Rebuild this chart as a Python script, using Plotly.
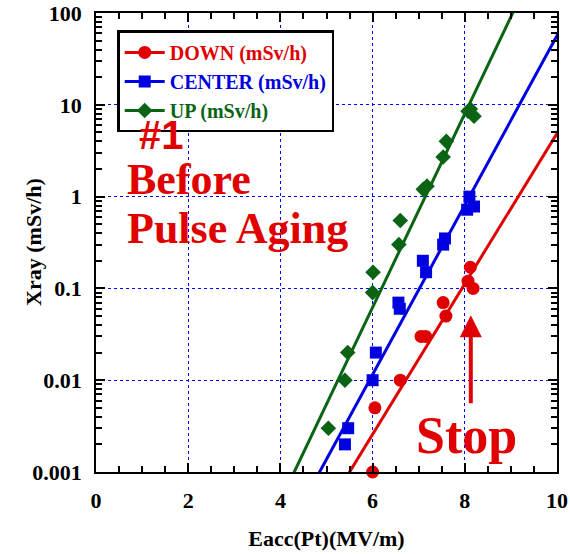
import numpy as np
import plotly.graph_objects as go

# Measured X-ray dose rate vs accelerating field (cavity #1, before pulse aging)
down_e = [6.0, 6.05, 6.6, 7.05, 7.15, 7.53, 7.59, 8.07, 8.12, 8.18]
down_v = [0.001, 0.005, 0.01, 0.03, 0.03, 0.07, 0.05, 0.12, 0.17, 0.1]

center_e = [5.4, 5.47, 6.0, 6.07, 6.56, 6.59, 7.09, 7.16, 7.53, 7.57, 8.05, 8.1, 8.2]
center_v = [0.002, 0.003, 0.01, 0.02, 0.07, 0.06, 0.2, 0.15, 0.3, 0.35, 0.72, 1.0, 0.78]

up_e = [5.04, 5.4, 5.46, 6.0, 6.01, 6.57, 6.6, 7.1, 7.18, 7.53, 7.6, 8.07, 8.12, 8.2]
up_v = [0.003, 0.01, 0.02, 0.09, 0.15, 0.3, 0.55, 1.2, 1.3, 2.7, 4.0, 8.5, 9.0, 7.5]

# Exponential fits: log10(Xray) = slope * (Eacc - e0) - 3
down_fit = dict(e0=5.50, slope=0.820)
center_fit = dict(e0=4.85, slope=0.923)
up_fit = dict(e0=4.30, slope=1.055)

x_ticks = [0, 2, 4, 6, 8, 10]
y_ticks = [0.001, 0.01, 0.1, 1, 10, 100]

# "Stop" marker arrow: field where the run was stopped, from tail to head dose rate
stop_e = 8.13
stop_tail_v = 0.0054
stop_head_v = 0.051

RED = "#e00000"
BLUE = "#0000e0"
GREEN = "#0a6414"
SERIF = "Liberation Serif, Times New Roman, serif"

series = [
    ("DOWN (mSv/h)", down_e, down_v, down_fit, RED, "circle", 13),
    ("CENTER (mSv/h)", center_e, center_v, center_fit, BLUE, "square", 12),
    ("UP (mSv/h)", up_e, up_v, up_fit, GREEN, "diamond", 12),
]

fig = go.Figure()
for name, ex, vy, fit, color, sym, size in series:
    ef = np.linspace(fit["e0"] - 0.2, 10.2, 60)
    vf = 10 ** (fit["slope"] * (ef - fit["e0"]) - 3)
    fig.add_trace(go.Scatter(x=ef, y=vf, mode="lines", showlegend=False,
                             line=dict(color=color, width=3), hoverinfo="skip"))
    fig.add_trace(go.Scatter(x=ex, y=vy, mode="markers", showlegend=False,
                             cliponaxis=False,
                             marker=dict(symbol=sym, size=size, color=color,
                                         line=dict(width=0))))
    # legend entry: line with marker
    fig.add_trace(go.Scatter(x=[None], y=[None], mode="lines+markers",
                             name=f'<span style="color:{color}">{name}</span>',
                             line=dict(color=color, width=3),
                             marker=dict(symbol=sym, size=size, color=color)))

axis_common = dict(
    showline=True, linecolor="black", linewidth=1.5, mirror="allticks",
    ticks="inside", ticklen=9, tickwidth=1.5, tickcolor="black",
    showgrid=True, gridcolor="#0000ff", gridwidth=1, griddash="dot",
    zeroline=False, automargin=False, layer="above traces",
    tickfont=dict(family=SERIF, size=22, color="black", weight="bold"),
)

fig.update_xaxes(
    range=[x_ticks[0], x_ticks[-1]], tickmode="linear",
    tick0=x_ticks[0], dtick=x_ticks[1] - x_ticks[0], ticklabelstandoff=8,
    minor=dict(tickmode="linear", tick0=0, dtick=0.5, ticks="inside", ticklen=6,
               tickwidth=1.5, tickcolor="black", showgrid=False),
    title=dict(text="Eacc(Pt)(MV/m)", standoff=18,
               font=dict(family=SERIF, size=22, color="black", weight="bold")),
    **axis_common,
)
fig.update_yaxes(
    type="log", range=[np.log10(y_ticks[0]), np.log10(y_ticks[-1])],
    dtick=1, ticklabelstandoff=8,
    minor=dict(dtick="D1", ticks="inside", ticklen=6, tickwidth=1.5,
               tickcolor="black", showgrid=False),
    **axis_common,
)

fig.add_annotation(xref="paper", yref="paper", x=-0.137, y=0.501,
                   text="Xray (mSv/h)", textangle=-90, showarrow=False,
                   xanchor="center", yanchor="middle",
                   font=dict(family=SERIF, size=22, color="black", weight="bold"))

text_red = dict(color=RED, weight="bold")
fig.add_annotation(xref="paper", yref="paper", x=0.088, y=0.735, text="#1",
                   showarrow=False, xanchor="left", yanchor="middle",
                   font=dict(family="Liberation Sans, Arial, sans-serif", size=40, **text_red))
fig.add_annotation(xref="paper", yref="paper", x=0.062, y=0.638, text="Before",
                   showarrow=False, xanchor="left", yanchor="middle",
                   font=dict(family=SERIF, size=44, **text_red))
fig.add_annotation(xref="paper", yref="paper", x=0.062, y=0.53, text="Pulse Aging",
                   showarrow=False, xanchor="left", yanchor="middle",
                   font=dict(family=SERIF, size=44, **text_red))
fig.add_annotation(xref="paper", yref="paper", x=0.69, y=0.08, text="Stop",
                   showarrow=False, xanchor="left", yanchor="middle",
                   font=dict(family=SERIF, size=52, **text_red))
fig.add_annotation(xref="x", yref="y", axref="x", ayref="y",
                   x=stop_e, y=np.log10(stop_head_v),
                   ax=stop_e, ay=np.log10(stop_tail_v),
                   text="", showarrow=True, arrowhead=2, arrowsize=1.1,
                   arrowwidth=4, arrowcolor=RED)

fig.update_layout(
    width=570, height=554,
    margin=dict(l=96, r=13, t=13, b=82),
    paper_bgcolor="white", plot_bgcolor="white",
    legend=dict(x=0.046, y=0.962, xanchor="left", yanchor="top",
                bgcolor="white", bordercolor="black", borderwidth=2.5,
                font=dict(family=SERIF, size=20, color="black", weight="bold"),
                itemwidth=40, tracegroupgap=0),
)

fig.write_html("out.html")
